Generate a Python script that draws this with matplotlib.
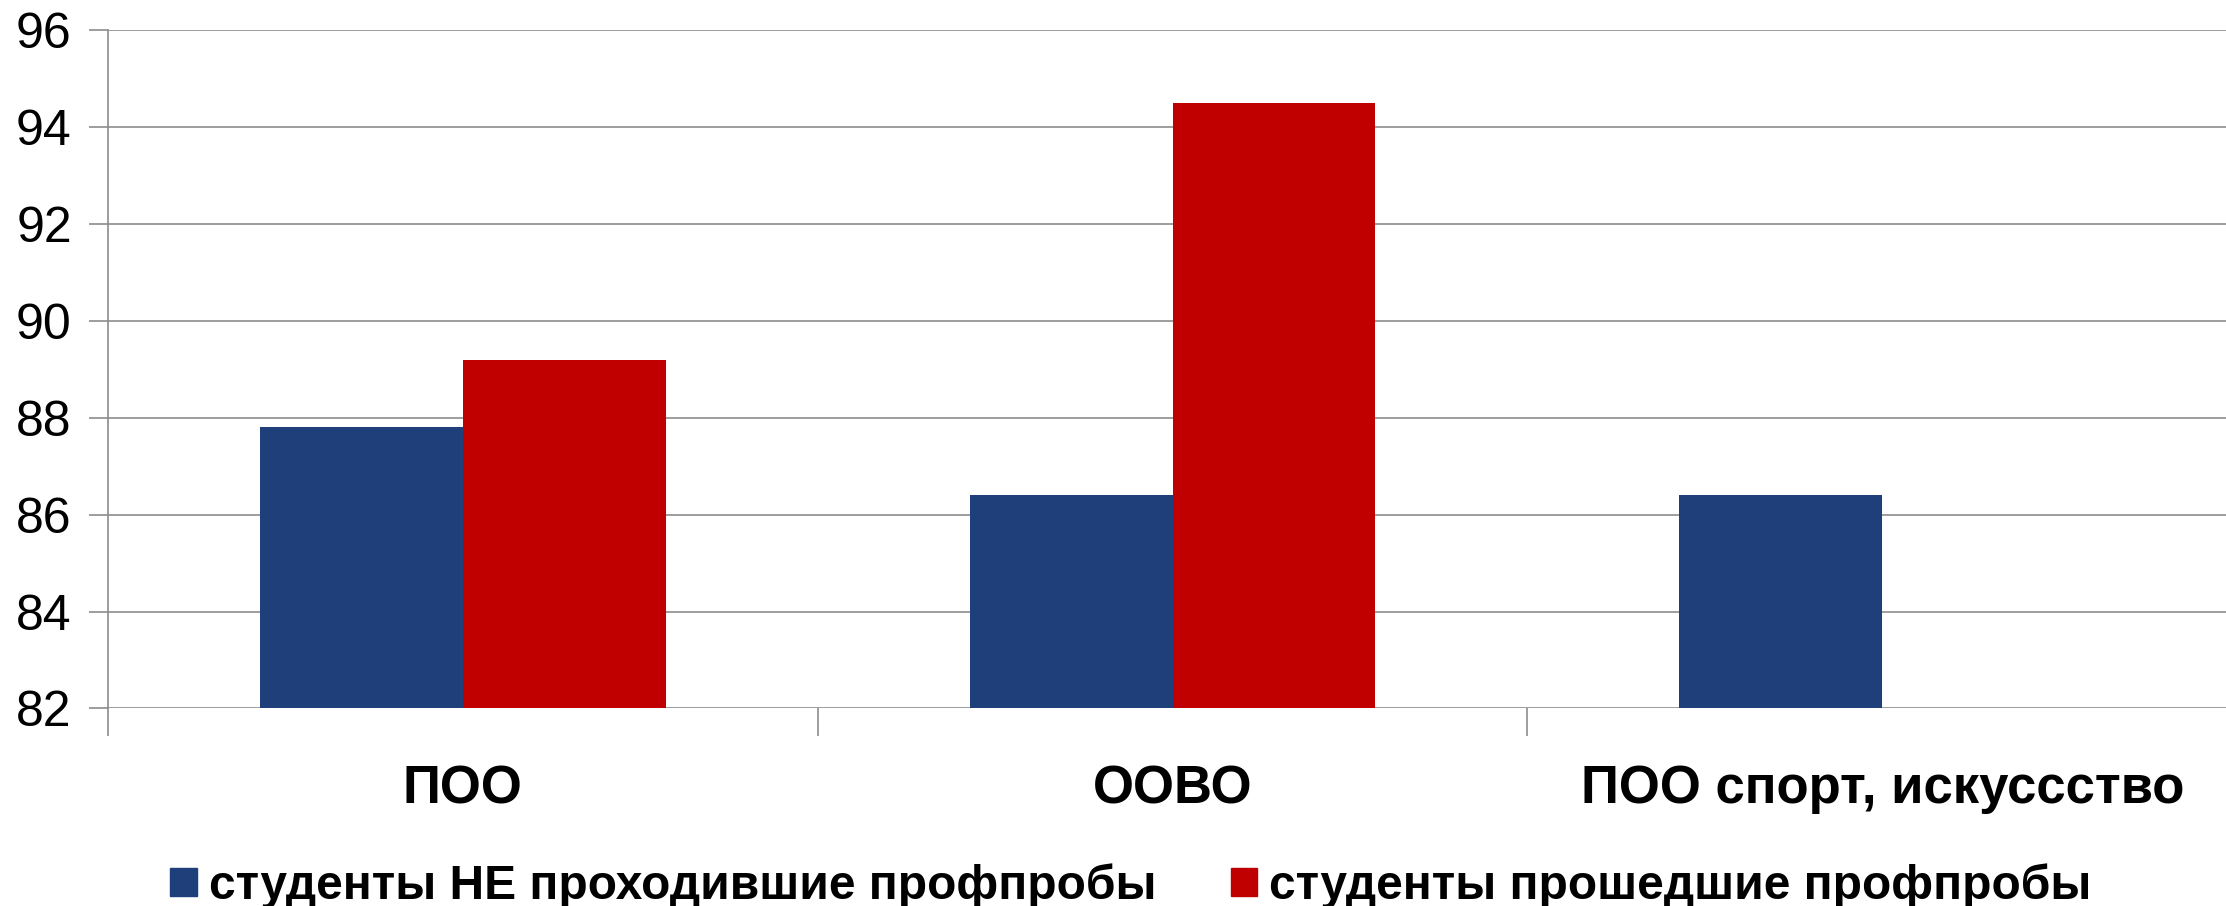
import numpy as np
import matplotlib
matplotlib.use("Agg")
import matplotlib.pyplot as plt
from matplotlib.patches import Patch

plt.rcParams['font.family'] = ['Liberation Sans', 'DejaVu Sans']

categories = ['ПОО', 'ООВО', 'ПОО спорт, искуссство']
not_passed = [87.8, 86.4, 86.4]
passed = [89.2, 94.5, np.nan]
series_names = ['студенты НЕ проходившие профпробы', 'студенты прошедшие профпробы']
colors = ['#1F3F7A', '#C00000']
y_ticks = [82, 84, 86, 88, 90, 92, 94, 96]

fig = plt.figure(figsize=(22.26, 9.06), dpi=100)
ax = fig.add_axes([0.0485, 0.218, 0.9565, 0.749])

x = np.arange(len(categories)) + 0.5
w = 1 / 3.5
ax.bar(x - w / 2, not_passed, width=w, color=colors[0], zorder=3)
ax.bar(x + w / 2, passed, width=w, color=colors[1], zorder=3)

ax.set_xlim(0, 3)
ax.set_ylim(82, 96)
ax.set_yticks(y_ticks)
ax.set_yticklabels([str(v) for v in y_ticks], fontsize=36)
ax.yaxis.grid(True, color='#8C8C8C', linewidth=1.2, zorder=0)

# boundaries as major ticks, names on minor ticks
ax.set_xticks([0, 1, 2, 3])
ax.set_xticklabels([])
ax.set_xticks(x, minor=True)
ax.set_xticklabels(categories, minor=True, fontsize=38, fontweight='bold')
ax.tick_params(axis='x', which='minor', length=0, pad=40)
ax.tick_params(axis='x', which='major', length=20, color='#8C8C8C', width=1.2)
ax.tick_params(axis='y', length=14, color='#8C8C8C', width=1.2, pad=12)

for s in ['top', 'right', 'bottom']:
    ax.spines[s].set_visible(False)
ax.spines['left'].set_color('#8C8C8C')
ax.spines['left'].set_linewidth(1.2)

handles = [Patch(color=c) for c in colors]
fig.legend(handles, series_names, loc='center', bbox_to_anchor=(0.508, 0.022),
           ncol=2, frameon=False, prop={'size': 34.5, 'weight': 'bold'},
           handlelength=0.55, handleheight=0.55, handletextpad=0.25,
           columnspacing=1.55, borderpad=0)

fig.savefig('out.png', dpi=100)
